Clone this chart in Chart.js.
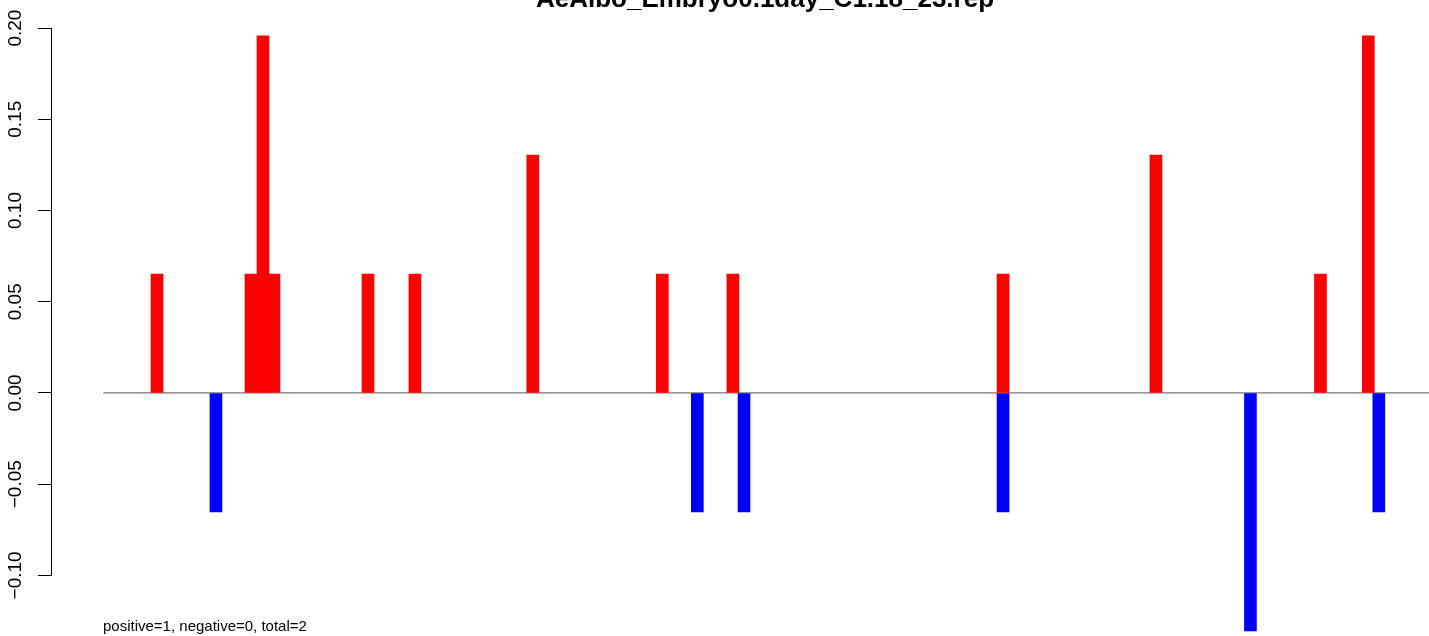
<!DOCTYPE html>
<html>
<head>
<meta charset="utf-8">
<title>AeAlbo_Embryo0.1day_C1.18_23.rep</title>
<script src="https://cdn.jsdelivr.net/npm/chart.js@4"></script>
<style>
	html, body { margin: 0; padding: 0; background: #fff; overflow: hidden; }
	#chart { display: block; }
</style>
</head>
<body>
<canvas id="chart" width="1429" height="636"></canvas>
<script>
	// chart texts
	var chartTitle = 'AeAlbo_Embryo0.1day_C1.18_23.rep';
	var footNote = 'positive=1, negative=0, total=2';

	// positive (red) bars: position and value
	var positivePos = [ 9.0, 17.05, 18.08, 19.02, 27.08, 31.1, 41.2, 52.3, 58.35, 81.5, 94.6, 108.7, 112.8 ];
	var positiveVal = [ 0.0652, 0.0652, 0.1957, 0.0652, 0.0652, 0.0652, 0.1304, 0.0652, 0.0652, 0.0652, 0.1304, 0.0652, 0.1957 ];

	// negative (blue) bars: position and value
	var negativePos = [ 14.05, 55.3, 59.3, 81.5, 102.7, 113.7 ];
	var negativeVal = [ -0.0652, -0.0652, -0.0652, -0.0652, -0.1304, -0.0652 ];

	// axis ticks and ranges
	var yTicks = [ -0.10, -0.05, 0.00, 0.05, 0.10, 0.15, 0.20 ];
	var xRange = [ 0, 118 ];
	var yRange = [ -0.1332, 0.2088 ];
	var baseLine = [ 4.4, 118 ];

	var fontFamily = "'Liberation Sans', Arial, Helvetica, sans-serif";

	/**
	 * Zip positions and values into points.
	 */
	function toPoints( pos, val ) {
		var points = [];

		for ( var i = 0; i < pos.length; i++ ) {
			points.push( { x: pos[i], y: val[i] } );
		}

		return points;
	}

	/**
	 * Draw the R style axis line, title and note.
	 */
	var rDecor = {
		id: 'rDecor',
		afterDraw: function( chart ) {
			var ctx = chart.ctx;
			var yScale = chart.scales.y;
			var x = Math.round( yScale.right ) - 0.5;

			ctx.save();

			// axis line between outer ticks
			ctx.strokeStyle = '#000';
			ctx.lineWidth = 1;
			ctx.beginPath();
			ctx.moveTo( x, Math.round( yScale.getPixelForValue( yTicks[yTicks.length - 1] ) ) + 0.5 );
			ctx.lineTo( x, Math.round( yScale.getPixelForValue( yTicks[0] ) ) + 0.5 );
			ctx.stroke();

			// title, cut by the top edge like the source
			ctx.fillStyle = '#000';
			ctx.font = 'bold 26px ' + fontFamily;
			ctx.textAlign = 'center';
			ctx.textBaseline = 'alphabetic';
			ctx.fillText( chartTitle, 765, 7 );

			// note
			ctx.font = '15px ' + fontFamily;
			ctx.textAlign = 'left';
			ctx.fillText( footNote, 103, 631 );

			ctx.restore();
		}
	};

	window.addEventListener( 'load', function() {
		var config = {
			type: 'bar',
			data: {
				datasets: [
					{
						label: 'negative',
						data: toPoints( negativePos, negativeVal ),
						backgroundColor: '#0000ff',
						borderWidth: 0,
						order: 0
					},
					{
						label: 'positive',
						data: toPoints( positivePos, positiveVal ),
						backgroundColor: '#ff0000',
						borderWidth: 0,
						order: 1
					},
					{
						type: 'line',
						label: 'zero',
						data: [ { x: baseLine[0], y: 0 }, { x: baseLine[1], y: 0 } ],
						borderColor: '#777777',
						borderWidth: 1.2,
						pointRadius: 0,
						order: 2
					}
				]
			},
			options: {
				responsive: false,
				animation: false,
				devicePixelRatio: 1,
				layout: {
					padding: { top: 12, right: 0, bottom: 0, left: 0 }
				},
				datasets: {
					bar: {
						barThickness: 12,
						grouped: false
					}
				},
				plugins: {
					legend: { display: false },
					title: { display: false },
					tooltip: { enabled: false }
				},
				scales: {
					x: {
						type: 'linear',
						display: false,
						offset: false,
						min: xRange[0],
						max: xRange[1]
					},
					y: {
						type: 'linear',
						position: 'left',
						min: yRange[0],
						max: yRange[1],
						afterBuildTicks: function( scale ) {
							scale.ticks = yTicks.map( function( v ) {
								return { value: v };
							} );
						},
						afterFit: function( scale ) {
							scale.width = 52;
							scale.paddingTop = 0;
							scale.paddingBottom = 0;
						},
						border: { display: false },
						grid: {
							display: true,
							drawOnChartArea: false,
							drawTicks: true,
							tickLength: 14,
							color: '#000',
							lineWidth: 1
						},
						ticks: {
							minRotation: 90,
							maxRotation: 90,
							crossAlign: 'center',
							padding: -2,
							color: '#000',
							font: { family: fontFamily, size: 19 },
							callback: function( value ) {
								var s = Math.abs( value ).toFixed( 2 );
								return value < 0 ? '\u2212' + s : s;
							}
						}
					}
				}
			},
			plugins: [ rDecor ]
		};

		window.rChart = new Chart( document.getElementById( 'chart' ).getContext( '2d' ), config );
	} );
</script>
</body>
</html>
